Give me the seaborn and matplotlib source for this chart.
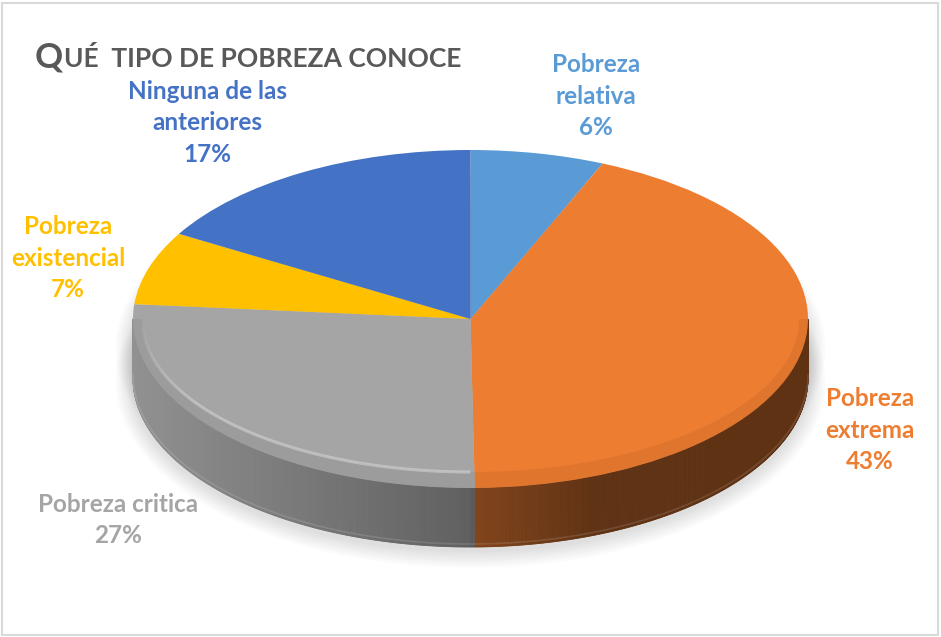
import numpy as np
import matplotlib
matplotlib.use("Agg")
import matplotlib.pyplot as plt
import seaborn as sns
from matplotlib.collections import PolyCollection
from matplotlib.patches import Ellipse, Rectangle, Polygon
import matplotlib.colors as mcolors

# ---------------- data ----------------
categories = ["Pobreza relativa", "Pobreza extrema", "Pobreza critica",
              "Pobreza existencial", "Ninguna de las anteriores"]
values = [6.4, 43.4, 26.6, 7.0, 16.6]
label_texts = ["Pobreza\nrelativa\n6%", "Pobreza\nextrema\n43%",
               "Pobreza critica\n27%", "Pobreza\nexistencial\n7%",
               "Ninguna de las\nanteriores\n17%"]
colors = ["#5B9BD5", "#ED7D31", "#A5A5A5", "#FFC000", "#4472C4"]
title_first = "Q"
title_rest = "UÉ  TIPO DE POBREZA CONOCE"

# ---------------- style ----------------
sns.set_theme(style="white")
plt.rcParams["font.family"] = ["Lato", "DejaVu Sans"]

W, H = 941, 637
fig = plt.figure(figsize=(W / 100, H / 100), dpi=100)
ax = fig.add_axes([0, 0, 1, 1])

# ellipse geometry in pixels
cx, cy, rx, ry, depth_px = 470.5, 319, 337.5, 169, 59
depth = depth_px / ry

# top face
wedges, _ = ax.pie(values, colors=colors, startangle=90, counterclock=False,
                   radius=1, center=(0, 0),
                   wedgeprops=dict(linewidth=0, zorder=3))
ax.set_aspect("auto")
ax.set_xlim(-cx / rx, (W - cx) / rx)
ax.set_ylim(-(H - cy) / ry, cy / ry)
ax.axis("off")

# ---------------- soft drop shadow ----------------
for k in range(8):
    for yc in (-depth - 0.02, -depth * 0.5):
        e = Ellipse((0, yc), 2 * (1 + (2 + 2.2 * k) / rx), 2 * (1 + (2 + 2.2 * k) / ry),
                    facecolor="black", edgecolor="none", alpha=0.016, zorder=0)
        ax.add_patch(e)


# ---------------- side of the 3D pie ----------------
def shade(x):
    # light coming from the left
    if x <= 0:
        return 0.88 + (0.58 - 0.88) * (x + 1)
    if x <= 0.35:
        return 0.55 + (0.41 - 0.55) * (x / 0.35)
    return 0.40


cum = np.concatenate([[0], np.cumsum(values)]) / np.sum(values)
polys, fcols = [], []
for i, base in enumerate(colors):
    a0 = 90 - 360 * cum[i]
    a1 = 90 - 360 * cum[i + 1]
    ts = np.linspace(a1, a0, int(abs(a0 - a1) * 4) + 2)
    rgb = np.array(mcolors.to_rgb(base))
    for t, t2 in zip(ts[:-1], ts[1:]):
        tm = np.deg2rad((t + t2) / 2)
        if np.sin(tm) >= 0:
            continue
        r1, r2 = np.deg2rad(t), np.deg2rad(t2)
        p = [(np.cos(r1), np.sin(r1)), (np.cos(r2), np.sin(r2)),
             (np.cos(r2), np.sin(r2) - depth), (np.cos(r1), np.sin(r1) - depth)]
        polys.append(p)
        fcols.append(np.clip(rgb * shade(np.cos(tm)), 0, 1))
side = PolyCollection(polys, facecolors=fcols, edgecolors=fcols, linewidths=0.6, zorder=2)
ax.add_collection(side)

# bottom rim subtle line
tt = np.linspace(np.pi, 2 * np.pi, 300)
ax.plot(np.cos(tt), np.sin(tt) - depth + 3 / ry, color="white", alpha=0.12, lw=1.2, zorder=2.5)

# bevel on top face front edge
inner_x, inner_y = 1 - 9 / rx, 1 - 16 / ry
outer = list(zip(np.cos(tt), np.sin(tt)))
inner = list(zip(inner_x * np.cos(tt[::-1]), inner_y * np.sin(tt[::-1])))
ax.add_patch(Polygon(outer + inner, closed=True, facecolor="black", edgecolor="none",
                     alpha=0.05, zorder=4))
segs = np.linspace(np.pi * 1.02, np.pi * 1.5, 40)
for s0, s1 in zip(segs[:-1], segs[1:]):
    sm = (s0 + s1) / 2
    a = 0.32 * min(1, abs(np.sin(sm)) * 1.8)
    ss = np.linspace(s0, s1, 5)
    ax.plot(inner_x * np.cos(ss), inner_y * np.sin(ss), color="white", alpha=a, lw=2.2,
            zorder=4.5, solid_capstyle="butt")

# ---------------- labels ----------------
label_pos = [(596, 96), (870, 430), (118, 520), (68, 258), (207, 123)]
for txt, (px, py), col in zip(label_texts, label_pos, colors):
    fig.text(px / W, 1 - py / H, txt, ha="center", va="center", fontsize=17.5,
             fontweight="bold", color=col, linespacing=1.45)

# ---------------- title (small caps) ----------------
tcol = "#595959"
t1 = fig.text(35 / W, 1 - 67 / H, title_first, fontsize=25, fontweight="bold",
              color=tcol, va="baseline", ha="left")
fig.canvas.draw()
bb = t1.get_window_extent(renderer=fig.canvas.get_renderer())
fig.text((bb.x1 + 0.5) / W, 1 - 67 / H, title_rest, fontsize=19, fontweight="bold",
         color=tcol, va="baseline", ha="left")

# chart border
fig.add_artist(Rectangle((2 / W, 2 / H), (W - 5) / W, (H - 5) / H, transform=fig.transFigure,
                         fill=False, edgecolor="#D9D9D9", lw=1.5))

fig.savefig("out.png", dpi=100)
